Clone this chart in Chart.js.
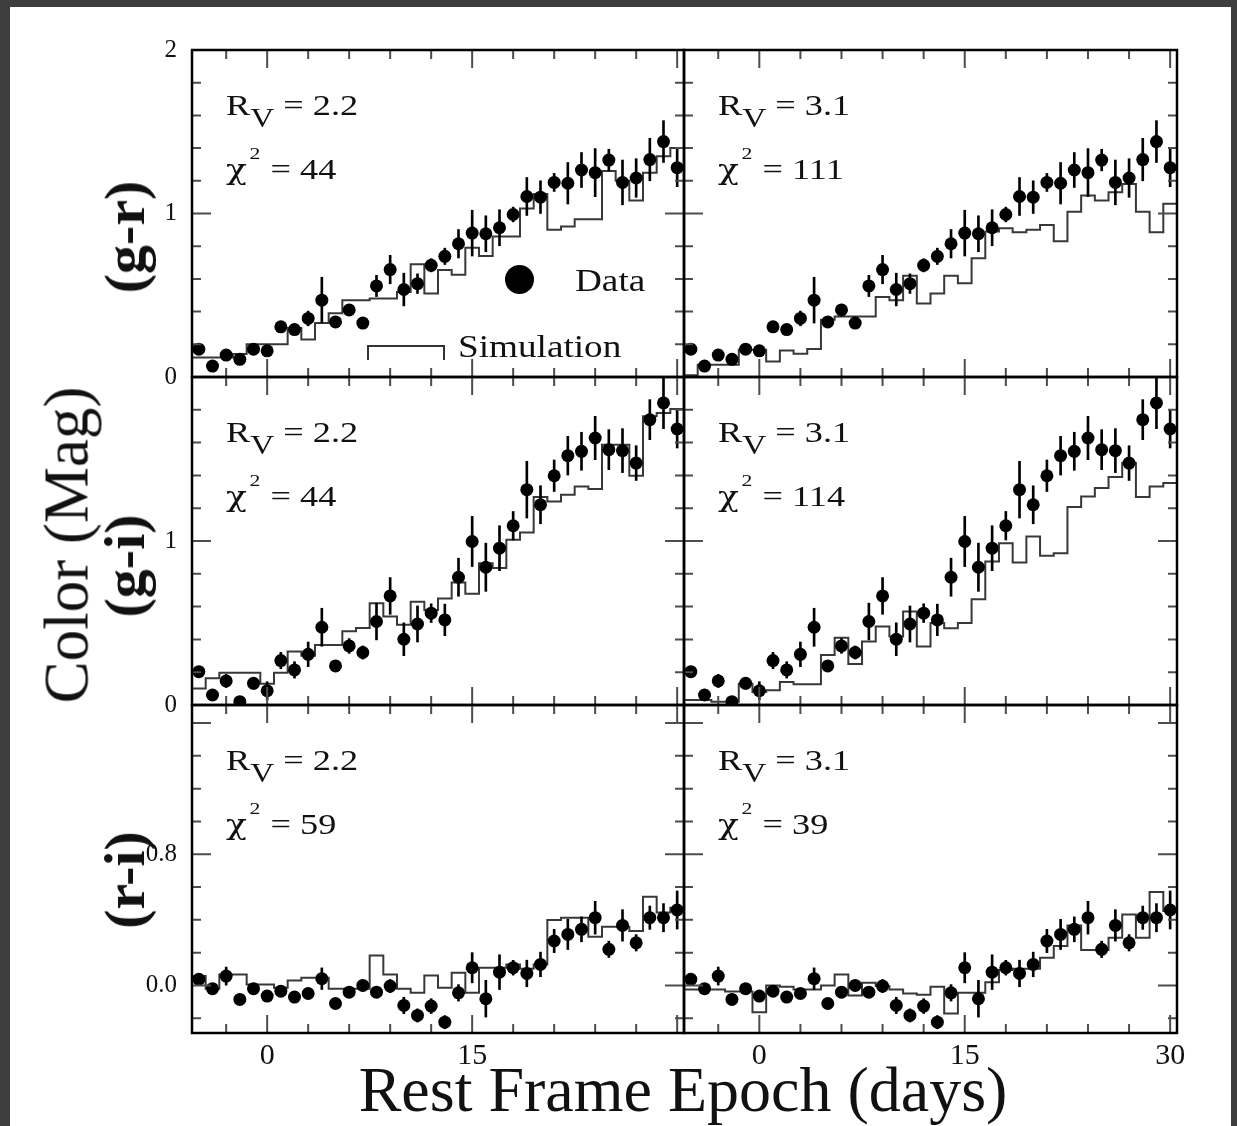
<!DOCTYPE html>
<html lang="en">
<head>
<meta charset="utf-8">
<title>Color evolution: data vs simulation</title>
<script src="https://cdn.jsdelivr.net/npm/chart.js@4.4.1/dist/chart.umd.min.js"></script>
<style>
  html, body { margin: 0; padding: 0; }
  body { width: 1237px; height: 1126px; background: #3e3e3e; position: relative; overflow: hidden;
         font-family: "Liberation Serif", "Times New Roman", serif; color: #111; }
  #sheet { position: absolute; left: 10px; top: 7px; right: 6px; bottom: 0; background: #fff; }
  canvas.panel { position: absolute; }
  .note { position: absolute; font-size: 29px; line-height: 1; white-space: nowrap;
          transform: scaleX(1.25); transform-origin: 0 0; }
  .note .sub { position: relative; top: 12px; font-size: 0.92em; }
  .note .chi { font-family: "DejaVu Serif", serif; font-size: 0.95em; }
  .note .sup { position: relative; top: -20px; font-size: 0.6em; margin: 0 1px 0 2px; }
  .vlabel { position: absolute; line-height: 1; white-space: nowrap;
            transform: translate(-50%, -50%) rotate(-90deg); }
  .band { font-size: 58px; font-weight: bold; }
  #ytitle { font-size: 63px; }
  #xtitle { position: absolute; font-size: 64px; line-height: 1; white-space: nowrap; transform: translateX(-50%); }
  .legend-dot { position: absolute; width: 29px; height: 29px; border-radius: 50%; background: #000; }
  .legend-step { position: absolute; border: 2px solid #333; border-bottom: none; }
  .legend-text { position: absolute; font-size: 31px; line-height: 1; white-space: nowrap;
                 transform: scaleX(1.2); transform-origin: 0 0; }
</style>
</head>
<body>
<div id="sheet"></div>
<div id="figure"></div>

<script>
// epochs (days) of the data points / simulation bins
const epochs = [-5, -4, -3, -2, -1, 0, 1, 2, 3, 4, 5, 6, 7, 8, 9, 10, 11, 12,
  13, 14, 15, 16, 17, 18, 19, 20, 21, 22, 23, 24, 25, 26, 27, 28, 29, 30];

// measured colours and errors
const grData = [0.17, 0.067, 0.134, 0.108, 0.17, 0.16, 0.307, 0.29, 0.358, 0.47, 0.337, 0.41,
  0.33, 0.557, 0.657, 0.535, 0.571, 0.683, 0.738, 0.815, 0.88, 0.876, 0.913, 0.994,
  1.104, 1.1, 1.19, 1.185, 1.266, 1.25, 1.327, 1.19, 1.217, 1.33, 1.44, 1.28];
const grErr = [0.03, 0.025, 0.03, 0.025, 0.025, 0.03, 0.03, 0.03, 0.045, 0.14, 0.03, 0.035,
  0.03, 0.065, 0.087, 0.1, 0.06, 0.04, 0.05, 0.087, 0.14, 0.11, 0.11, 0.045,
  0.116, 0.1, 0.055, 0.127, 0.107, 0.147, 0.066, 0.137, 0.118, 0.13, 0.128, 0.116];

const giData = [0.203, 0.061, 0.147, 0.02, 0.132, 0.087, 0.271, 0.214, 0.309, 0.474, 0.238, 0.36,
  0.32, 0.509, 0.665, 0.401, 0.494, 0.56, 0.519, 0.779, 0.997, 0.84, 0.956, 1.093,
  1.313, 1.221, 1.398, 1.52, 1.547, 1.628, 1.557, 1.551, 1.475, 1.74, 1.842, 1.683];
const giErr = [0.03, 0.03, 0.04, 0.03, 0.035, 0.055, 0.05, 0.05, 0.075, 0.116, 0.03, 0.045,
  0.04, 0.112, 0.112, 0.1, 0.11, 0.057, 0.096, 0.116, 0.153, 0.147, 0.137, 0.087,
  0.173, 0.116, 0.096, 0.118, 0.116, 0.132, 0.122, 0.134, 0.106, 0.122, 0.157, 0.116];

const riData = [0.037, -0.02, 0.057, -0.085, -0.02, -0.065, -0.035, -0.071, -0.049, 0.041, -0.11, -0.041,
  0.0, -0.041, -0.004, -0.122, -0.183, -0.126, -0.224, -0.045, 0.108, -0.081, 0.081, 0.108,
  0.073, 0.128, 0.271, 0.311, 0.342, 0.413, 0.22, 0.366, 0.26, 0.413, 0.413, 0.46];
const riErr = [0.03, 0.025, 0.055, 0.025, 0.03, 0.03, 0.03, 0.025, 0.03, 0.066, 0.03, 0.025,
  0.03, 0.03, 0.04, 0.05, 0.04, 0.045, 0.04, 0.05, 0.092, 0.112, 0.106, 0.045,
  0.081, 0.075, 0.071, 0.092, 0.076, 0.1, 0.05, 0.096, 0.05, 0.071, 0.086, 0.116];

// simulated colours (one value per 1-day bin)
const simGr22 = [0.12, 0.12, 0.12, 0.14, 0.2, 0.2, 0.2, 0.3, 0.23, 0.33, 0.39, 0.47,
  0.47, 0.48, 0.48, 0.52, 0.69, 0.51, 0.655, 0.625, 0.79, 0.74, 0.86, 0.86,
  1.03, 1.12, 0.9, 0.92, 0.965, 0.965, 1.26, 1.2, 1.08, 1.25, 1.35, 1.4];
const simGr31 = [0.01, 0.075, 0.075, 0.075, 0.167, 0.167, 0.095, 0.162, 0.142, 0.171, 0.35, 0.37,
  0.37, 0.37, 0.49, 0.47, 0.62, 0.45, 0.51, 0.62, 0.574, 0.726, 0.89, 0.91,
  0.886, 0.9, 0.93, 0.83, 1.01, 1.11, 1.08, 1.13, 1.18, 1.01, 0.886, 1.06];
const simGi22 = [0.1, 0.163, 0.197, 0.197, 0.197, 0.13, 0.197, 0.326, 0.3, 0.366, 0.366, 0.45,
  0.47, 0.62, 0.54, 0.49, 0.63, 0.58, 0.65, 0.747, 0.678, 0.865, 0.835, 1.007,
  1.052, 1.268, 1.241, 1.282, 1.333, 1.317, 1.587, 1.587, 1.398, 1.76, 1.781, 1.805];
const simGi31 = [0.03, 0.03, 0.02, 0.02, 0.13, 0.08, 0.09, 0.14, 0.127, 0.127, 0.305, 0.41,
  0.25, 0.387, 0.478, 0.417, 0.57, 0.356, 0.5, 0.468, 0.5, 0.645, 0.875, 0.987,
  0.869, 1.028, 0.91, 0.926, 1.207, 1.272, 1.323, 1.39, 1.475, 1.268, 1.333, 1.353];
const simRi22 = [0.057, -0.02, 0.067, 0.067, 0.006, 0.006, -0.014, 0.03, 0.047, 0.047, -0.02, -0.02,
  -0.02, 0.183, 0.067, -0.02, -0.045, 0.061, -0.014, 0.077, -0.045, 0.108, 0.108, 0.128,
  0.102, 0.128, 0.399, 0.413, 0.413, 0.297, 0.358, 0.358, 0.332, 0.541, 0.444, 0.474];
const simRi31 = [-0.024, -0.024, -0.024, -0.037, -0.037, -0.163, 0.0, -0.008, -0.024, -0.024, 0.0, 0.067,
  -0.061, 0.016, -0.004, -0.024, -0.049, -0.057, -0.008, -0.171, -0.045, -0.045, 0.02, 0.094,
  0.102, 0.102, 0.169, 0.24, 0.366, 0.216, 0.216, 0.291, 0.433, 0.291, 0.57, 0.454];

// ticks and labels
const epochTicks = [-3, 0, 3, 6, 9, 12, 15, 18, 21, 24, 27, 30];
const epochMajor = [0, 15, 30];
const epochLabelsLeft = [0, 15];
const epochLabelsRight = [0, 15, 30];
const colorTicks = [0, 0.2, 0.4, 0.6, 0.8, 1, 1.2, 1.4, 1.6, 1.8, 2];
const colorMajor = [0, 1, 2];
const riTicks = [-0.2, 0, 0.2, 0.4, 0.6, 0.8, 1, 1.2, 1.4, 1.6];
const riMajor = [0, 0.8, 1.6];
const grLabels = [0, 1, 2];
const giLabels = [0, 1];
const riLabels = [0, 0.8];

const rvValues = ['2.2', '3.1'];
const chi2Values = [['44', '111'], ['44', '114'], ['59', '39']];
const bandNames = ['(g-r)', '(g-i)', '(r-i)'];

// layout (pixels)
const cols = [{ left: 192, width: 492 }, { left: 684, width: 493 }];
const rows = [{ top: 50, height: 327 }, { top: 377, height: 328 }, { top: 705, height: 328 }];
const M = 70;

const panels = [
  { row: 0, col: 0, data: grData, err: grErr, sim: simGr22, yMin: 0, yMax: 2, yTicks: colorTicks, yMajor: colorMajor, yLabels: grLabels, digits: 0 },
  { row: 0, col: 1, data: grData, err: grErr, sim: simGr31, yMin: 0, yMax: 2, yTicks: colorTicks, yMajor: colorMajor, yLabels: grLabels, digits: 0 },
  { row: 1, col: 0, data: giData, err: giErr, sim: simGi22, yMin: 0, yMax: 2, yTicks: colorTicks, yMajor: colorMajor, yLabels: giLabels, digits: 0 },
  { row: 1, col: 1, data: giData, err: giErr, sim: simGi31, yMin: 0, yMax: 2, yTicks: colorTicks, yMajor: colorMajor, yLabels: giLabels, digits: 0 },
  { row: 2, col: 0, data: riData, err: riErr, sim: simRi22, yMin: -0.29, yMax: 1.71, yTicks: riTicks, yMajor: riMajor, yLabels: riLabels, digits: 1 },
  { row: 2, col: 1, data: riData, err: riErr, sim: simRi31, yMin: -0.29, yMax: 1.71, yTicks: riTicks, yMajor: riMajor, yLabels: riLabels, digits: 1 }
];

// inward tick marks on all four sides plus the frame
const frameTicks = {
  id: 'frameTicks',
  afterDatasetsDraw(chart, args, o) {
    const { ctx, chartArea: a } = chart;
    const x = chart.scales.x, y = chart.scales.y;
    ctx.save();
    ctx.strokeStyle = '#4d4d4d';
    ctx.lineWidth = 2;
    ctx.beginPath();
    o.xTicks.forEach(v => {
      const px = x.getPixelForValue(v);
      const len = o.xMajor.includes(v) ? 18 : 9;
      ctx.moveTo(px, a.bottom); ctx.lineTo(px, a.bottom - len);
      ctx.moveTo(px, a.top); ctx.lineTo(px, a.top + len);
    });
    o.yTicks.forEach(v => {
      const py = y.getPixelForValue(v);
      const len = o.yMajor.includes(v) ? 19 : 9;
      ctx.moveTo(a.left, py); ctx.lineTo(a.left + len, py);
      ctx.moveTo(a.right, py); ctx.lineTo(a.right - len, py);
    });
    ctx.stroke();
    ctx.strokeStyle = '#000';
    ctx.lineWidth = 2.5;
    ctx.strokeRect(a.left, a.top, a.right - a.left, a.bottom - a.top);
    ctx.restore();
  }
};

function stepPoints(values) {
  const pts = epochs.map((e, i) => ({ x: e - 0.5, y: values[i] }));
  pts.push({ x: epochs[epochs.length - 1] + 0.5, y: values[values.length - 1] });
  return pts;
}

const fig = document.getElementById('figure');

panels.forEach(p => {
  const col = cols[p.col], row = rows[p.row];
  const showY = p.col === 0;
  const showX = p.row === 2;

  const cv = document.createElement('canvas');
  cv.className = 'panel';
  cv.width = col.width + 2 * M;
  cv.height = row.height + 2 * M;
  cv.style.left = (col.left - M) + 'px';
  cv.style.top = (row.top - M) + 'px';
  fig.appendChild(cv);

  new Chart(cv, {
    type: 'scatter',
    data: {
      datasets: [
        {
          type: 'line',
          label: 'Simulation',
          data: stepPoints(p.sim),
          stepped: true,
          borderColor: '#383838',
          borderWidth: 2,
          pointRadius: 0,
          fill: false,
          order: 3
        },
        {
          type: 'bar',
          label: 'error',
          data: epochs.map((e, i) => ({ x: e, y: [p.data[i] - p.err[i], p.data[i] + p.err[i]] })),
          backgroundColor: '#000',
          barThickness: 2,
          order: 2
        },
        {
          type: 'scatter',
          label: 'Data',
          data: epochs.map((e, i) => ({ x: e, y: p.data[i] })),
          backgroundColor: '#000',
          borderWidth: 0,
          pointRadius: 6.5,
          order: 1
        }
      ]
    },
    options: {
      responsive: false,
      animation: false,
      events: [],
      layout: { padding: { left: showY ? 0 : M, right: M, top: M, bottom: showX ? 0 : M } },
      plugins: {
        legend: { display: false },
        tooltip: { enabled: false },
        frameTicks: { xTicks: epochTicks, xMajor: epochMajor, yTicks: p.yTicks, yMajor: p.yMajor }
      },
      scales: {
        x: {
          type: 'linear',
          min: -5.5,
          max: 30.5,
          offset: false,
          display: showX,
          grid: { display: false, drawTicks: false, offset: false },
          border: { display: false },
          afterBuildTicks: s => { s.ticks = (p.col === 0 ? epochLabelsLeft : epochLabelsRight).map(v => ({ value: v })); },
          afterFit: s => { if (showX) s.height = M; },
          ticks: {
            autoSkip: false,
            maxRotation: 0,
            padding: 5,
            color: '#111',
            font: { family: 'Liberation Serif', size: 30 }
          }
        },
        y: {
          type: 'linear',
          min: p.yMin,
          max: p.yMax,
          display: showY,
          grid: { display: false, drawTicks: false },
          border: { display: false },
          afterBuildTicks: s => { s.ticks = p.yLabels.map(v => ({ value: v })); },
          afterFit: s => { if (showY) s.width = M; },
          ticks: {
            autoSkip: false,
            padding: 15,
            color: '#111',
            font: { family: 'Liberation Serif', size: 25 },
            callback: v => v.toFixed(p.digits)
          }
        }
      }
    },
    plugins: [frameTicks]
  });

  // R_V and chi^2 annotations
  const rv = document.createElement('div');
  rv.className = 'note';
  rv.style.left = (col.left + 34) + 'px';
  rv.style.top = (row.top + 41) + 'px';
  rv.innerHTML = 'R<span class="sub">V</span> = ' + rvValues[p.col];
  fig.appendChild(rv);

  const chi = document.createElement('div');
  chi.className = 'note';
  chi.style.left = (col.left + 34) + 'px';
  chi.style.top = (row.top + 105) + 'px';
  chi.innerHTML = '<span class="chi">\u03c7</span><span class="sup">2</span> = ' + chi2Values[p.row][p.col];
  fig.appendChild(chi);
});

// legend (top-left panel)
fig.insertAdjacentHTML('beforeend',
  '<div class="legend-dot" style="left:505px;top:265px"></div>' +
  '<div class="legend-text" style="left:575px;top:265px">Data</div>' +
  '<div class="legend-step" style="left:367px;top:345px;width:74px;height:13px"></div>' +
  '<div class="legend-text" style="left:458px;top:331px">Simulation</div>');

// axis titles
const bandCenters = [237, 566, 880];
bandNames.forEach((name, i) => {
  fig.insertAdjacentHTML('beforeend',
    '<div class="vlabel band" style="left:125px;top:' + bandCenters[i] + 'px">' + name + '</div>');
});
fig.insertAdjacentHTML('beforeend',
  '<div class="vlabel" id="ytitle" style="left:67px;top:545px">Color (Mag)</div>' +
  '<div id="xtitle" style="left:683px;top:1058px">Rest Frame Epoch (days)</div>');
</script>
</body>
</html>
